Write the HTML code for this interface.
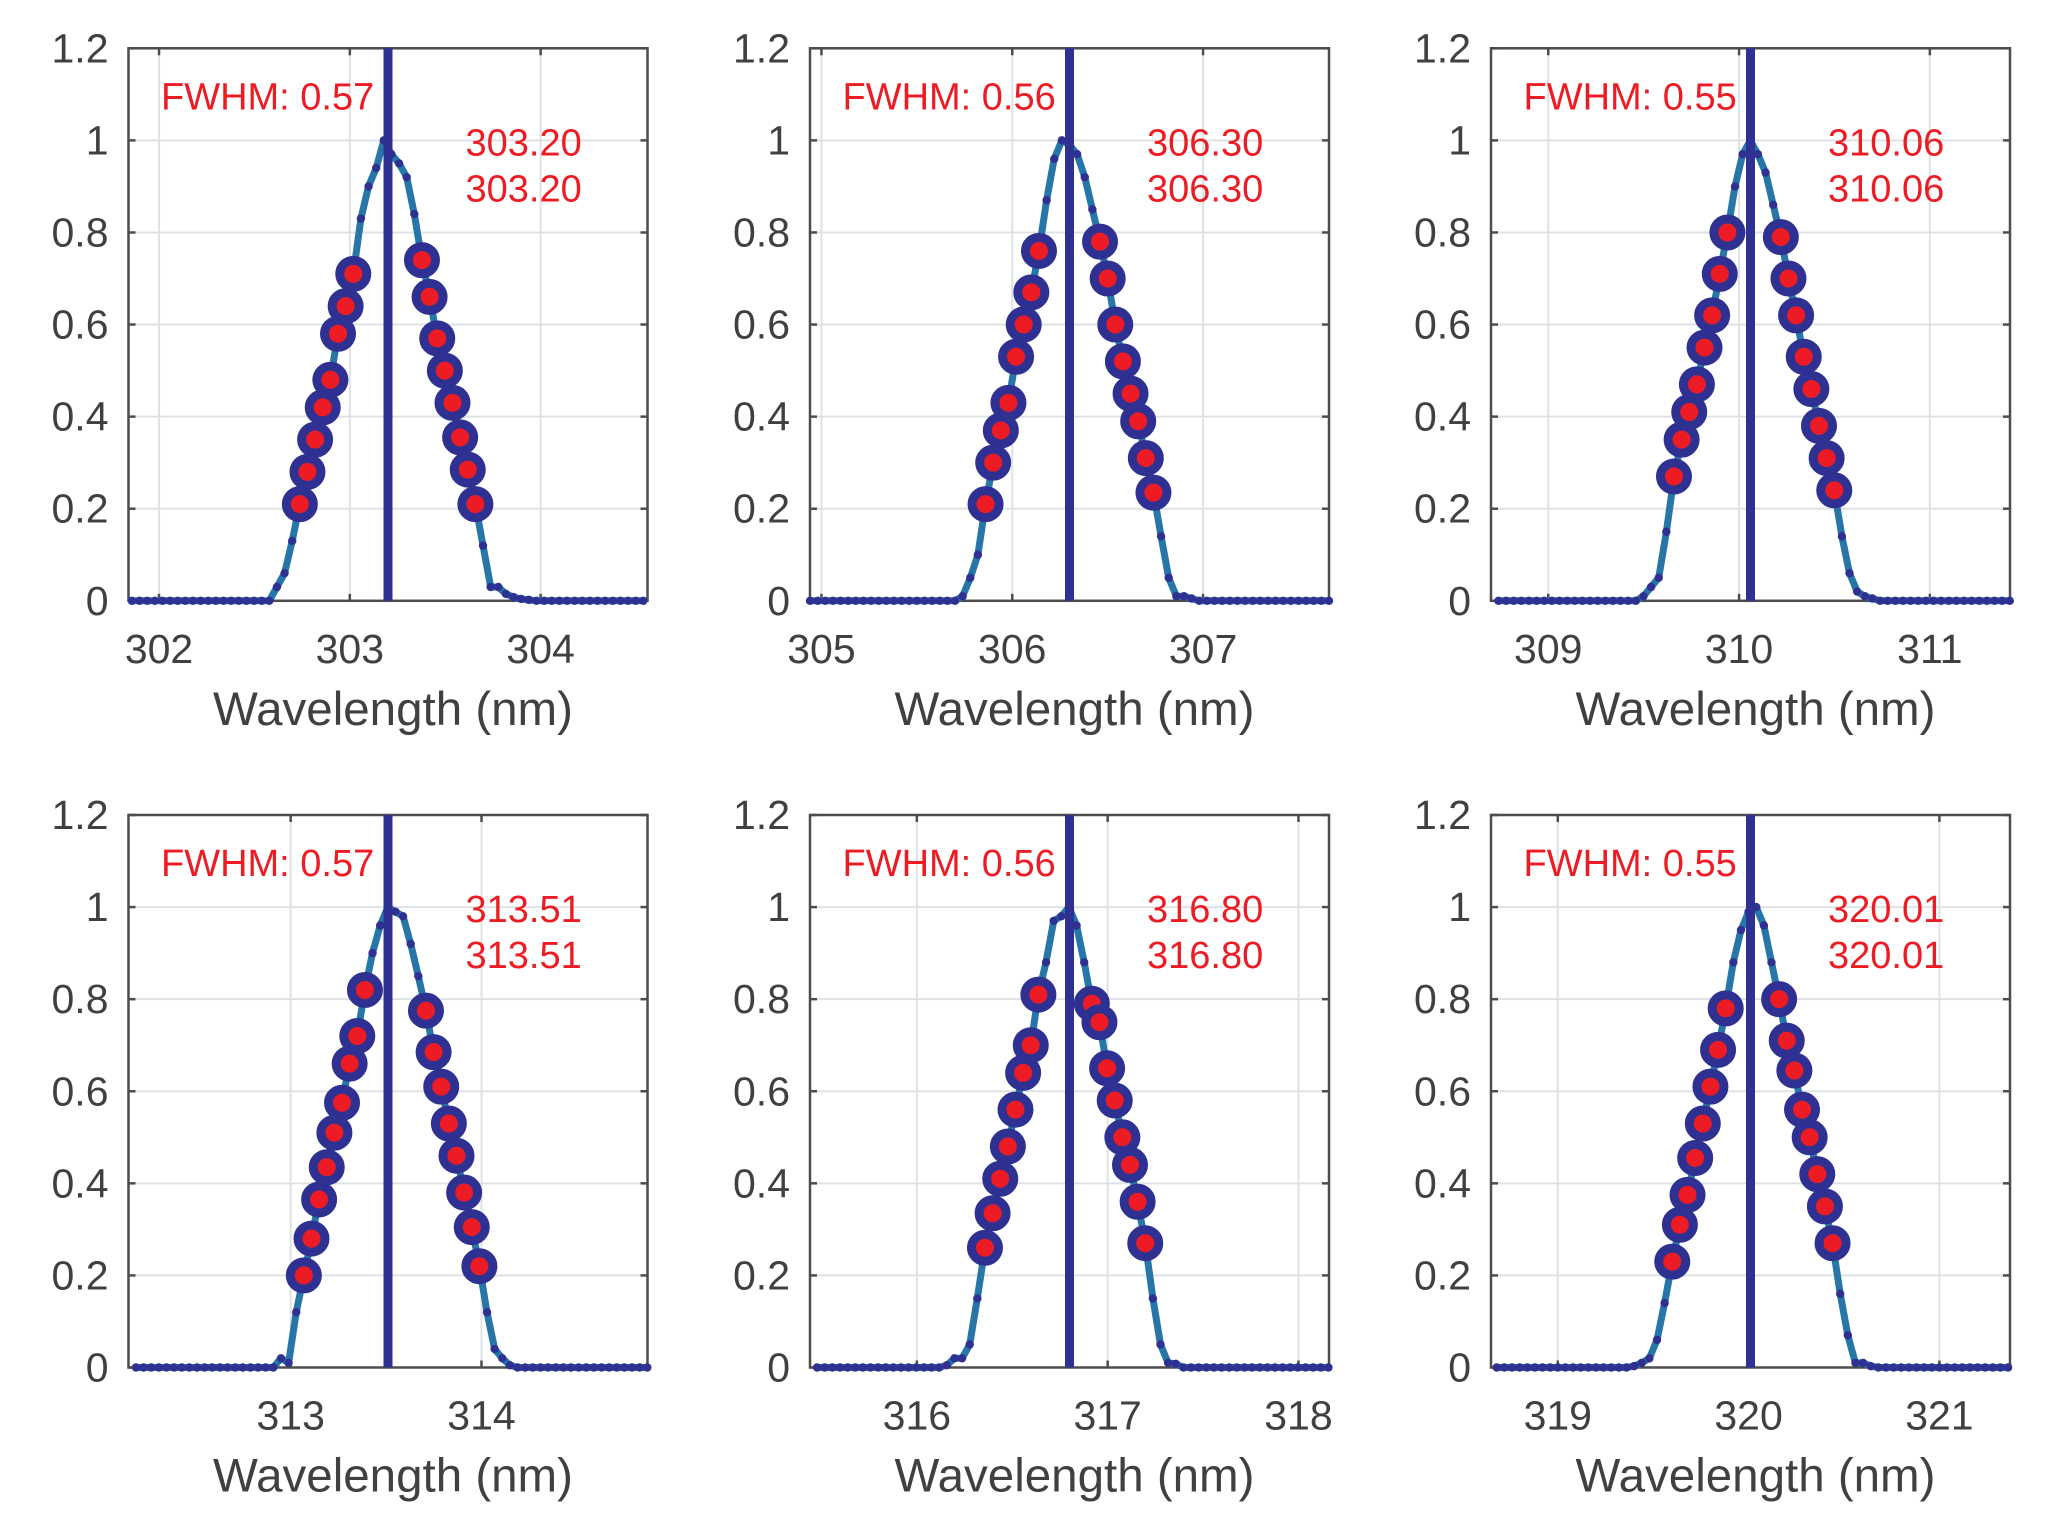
<!DOCTYPE html>
<html><head><meta charset="utf-8">
<style>
html,body{margin:0;padding:0;background:#fff;}
svg{display:block;}
text{font-family:"Liberation Sans",Arial,sans-serif;}
</style></head>
<body>
<svg id="fig" width="2067" height="1531" viewBox="0 0 2067 1531" xmlns="http://www.w3.org/2000/svg"></svg>
<script>
// ---- data ----
const centers = [303.20, 306.30, 310.06, 313.51, 316.80, 320.01];
const fwhms = ["0.57", "0.56", "0.55", "0.57", "0.56", "0.55"];
const peakLabels = ["303.20", "306.30", "310.06", "313.51", "316.80", "320.01"];
const firstWl = [302.578, 305.70, 309.459, 312.909, 316.157, 319.40];
const sampleStep = 0.04;
const ys1 = [0,0.03,0.06,0.13,0.21,0.28,0.35,0.42,0.48,0.58,0.64,0.71,0.83,0.90,0.94,1.0,0.97,0.95,0.92,0.84,0.74,0.66,0.57,0.50,0.43,0.355,0.285,0.21,0.12,0.03,0.03,0.015,0.008,0.004,0.002];
const ys2 = [0,0.01,0.05,0.10,0.21,0.30,0.37,0.43,0.53,0.60,0.67,0.76,0.87,0.96,1.0,0.99,0.97,0.92,0.85,0.78,0.70,0.60,0.52,0.45,0.39,0.31,0.235,0.14,0.05,0.01,0.01,0.005];
const ys3 = [0,0.01,0.03,0.05,0.15,0.27,0.35,0.41,0.47,0.55,0.62,0.71,0.80,0.90,0.97,1.0,0.97,0.93,0.86,0.79,0.70,0.62,0.53,0.46,0.38,0.31,0.24,0.14,0.06,0.02,0.01,0.005];
const ys4 = [0,0.02,0.01,0.12,0.20,0.28,0.365,0.435,0.51,0.575,0.66,0.72,0.82,0.90,0.96,1.0,0.99,0.98,0.92,0.85,0.775,0.685,0.61,0.53,0.46,0.38,0.305,0.22,0.12,0.04,0.02,0.005,0];
const ys5 = [0.005,0.02,0.02,0.05,0.15,0.26,0.335,0.41,0.48,0.56,0.64,0.70,0.81,0.88,0.97,0.98,1.0,0.96,0.88,0.79,0.75,0.65,0.58,0.50,0.44,0.36,0.27,0.15,0.05,0.01,0.008,0];
const ys6 = [0.003,0.01,0.02,0.06,0.14,0.23,0.31,0.375,0.455,0.53,0.61,0.69,0.78,0.88,0.95,0.99,1.0,0.96,0.88,0.80,0.71,0.645,0.56,0.50,0.42,0.35,0.27,0.16,0.07,0.01,0.01,0.003];
const series = [ys1, ys2, ys3, ys4, ys5, ys6];
const yTicks = [0, 0.2, 0.4, 0.6, 0.8, 1, 1.2];
const yTickLabels = ["0", "0.2", "0.4", "0.6", "0.8", "1", "1.2"];
const halfSpan = 1.36;

// ---- layout ----
const NS = "http://www.w3.org/2000/svg";
const svg = document.getElementById("fig");
const lefts = [128.5, 810, 1491];
const tops = [48.3, 815];
const W = 519, H = 552.5;

function mk(tag, attrs, parent) {
  const e = document.createElementNS(NS, tag);
  for (const k in attrs) e.setAttribute(k, attrs[k]);
  (parent || svg).appendChild(e);
  return e;
}

for (let p = 0; p < 6; p++) {
  const L = lefts[p % 3], T = tops[Math.floor(p / 3)];
  const c = centers[p];
  const xmin = c - halfSpan, xmax = c + halfSpan;
  const sx = v => L + (v - xmin) / (xmax - xmin) * W;
  const sy = v => T + H - v / 1.2 * H;
  const g = mk("g", {});
  
  

  const xt = [];
  for (let t = Math.ceil(xmin); t <= xmax; t++) xt.push(t);
  xt.forEach(t => {
    const gl = mk("line", {x1: sx(t), x2: sx(t), y1: T, y2: T + H, stroke: "#dfe2e5", "stroke-width": 2}, g);
    
    
  });
  yTicks.forEach(t => {
    const gl = mk("line", {x1: L, x2: L + W, y1: sy(t), y2: sy(t), stroke: "#dfe2e5", "stroke-width": 2}, g);
    
    
  });
  const box = mk("rect", {x: L, y: T, width: W, height: H, fill: "none", stroke: "#4d4d4d", "stroke-width": 2.5}, g);
  
  
  xt.forEach(t => {
    mk("line", {x1: sx(t), x2: sx(t), y1: T + H, y2: T + H - 7, stroke: "#4d4d4d", "stroke-width": 2.5}, g);
    mk("line", {x1: sx(t), x2: sx(t), y1: T, y2: T + 7, stroke: "#4d4d4d", "stroke-width": 2.5}, g);
    const tl = mk("text", {x: sx(t), y: T + H + 62, "text-anchor": "middle", "font-size": 41, fill: "#404040"}, g);
    tl.textContent = String(t);
    
    
  });
  yTicks.forEach((t, i) => {
    mk("line", {x1: L, x2: L + 7, y1: sy(t), y2: sy(t), stroke: "#4d4d4d", "stroke-width": 2.5}, g);
    mk("line", {x1: L + W, x2: L + W - 7, y1: sy(t), y2: sy(t), stroke: "#4d4d4d", "stroke-width": 2.5}, g);
    const tl = mk("text", {x: L - 20, y: sy(t) + 14, "text-anchor": "end", "font-size": 41, fill: "#404040"}, g);
    tl.textContent = yTickLabels[i];
    
    
  });
  const xl = mk("text", {x: L + W / 2 + 5, y: T + H + 124, "text-anchor": "middle", "font-size": 47.5, fill: "#404040"}, g);
  xl.textContent = "Wavelength (nm)";
  
  

  const ys = series[p];
  const pts = [];
  const x0 = firstWl[p];
  for (let x = x0 - sampleStep; x >= xmin - 1e-9; x -= sampleStep) pts.unshift([x, 0]);
  ys.forEach((v, i) => pts.push([x0 + i * sampleStep, v]));
  for (let x = x0 + ys.length * sampleStep; x <= xmax + 1e-9; x += sampleStep) pts.push([x, 0]);

  const d = pts.map((q, i) => (i ? "L" : "M") + sx(q[0]).toFixed(1) + " " + sy(q[1]).toFixed(1)).join(" ");
  const line = mk("path", {d: d, fill: "none", stroke: "#2676a8", "stroke-width": 7, "stroke-linejoin": "round"}, g);
  
  
  pts.forEach(q => {
    const dot = mk("circle", {cx: sx(q[0]), cy: sy(q[1]), r: 4.2, fill: "#2e3192"}, g);
    
    
  });
  pts.forEach(q => {
    if (q[1] >= 0.2 && q[1] <= 0.825) {
      const hc = mk("circle", {cx: sx(q[0]), cy: sy(q[1]), r: 13.5, fill: "#ed1c24", stroke: "#2e3192", "stroke-width": 9}, g);
      
      
    }
  });
  const cl = mk("line", {x1: sx(c), x2: sx(c), y1: T, y2: T + H, stroke: "#2e3192", "stroke-width": 9}, g);
  
  

  const ft = mk("text", {x: L + 32.5, y: T + 61, "font-size": 38, fill: "#ed1c24"}, g);
  ft.textContent = "FWHM: " + fwhms[p];
  
  
  const p1 = mk("text", {x: L + 337, y: T + 107, "font-size": 38, fill: "#ed1c24"}, g);
  p1.textContent = peakLabels[p];
  
  
  const p2 = mk("text", {x: L + 337, y: T + 153, "font-size": 38, fill: "#ed1c24"}, g);
  p2.textContent = peakLabels[p];
  
  
}
</script>
</body></html>
